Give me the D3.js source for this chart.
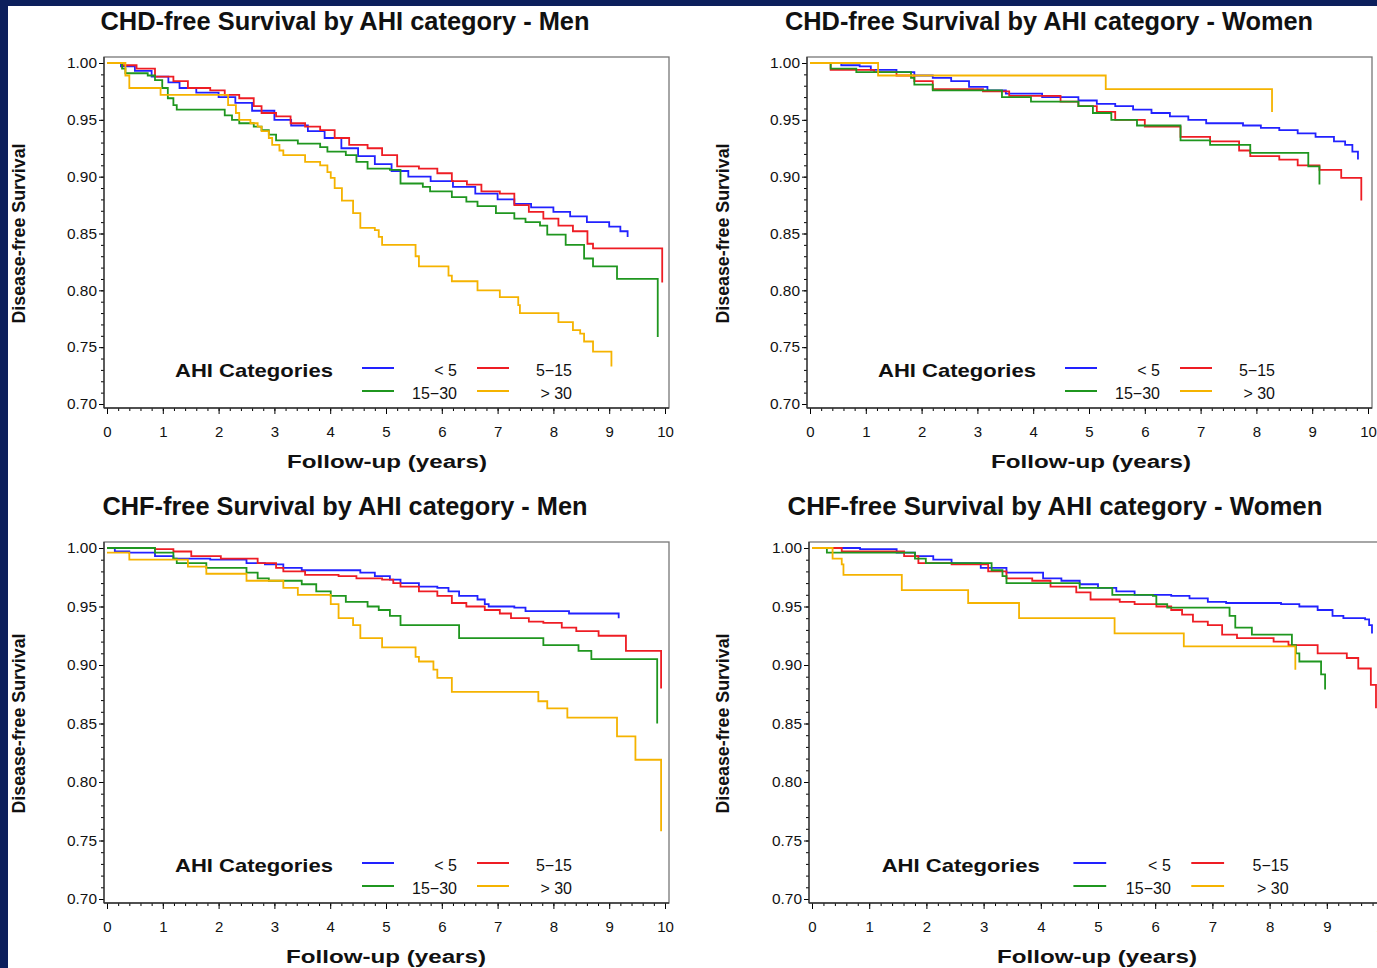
<!DOCTYPE html>
<html>
<head>
<meta charset="utf-8">
<script src="https://cdn.jsdelivr.net/npm/d3@7"></script>
<style>
  body { margin: 0; background: #fff; }
  svg { display: block; font-family: "Liberation Sans", Arial, sans-serif; }
</style>
</head>
<body>
<svg id="chart" width="1377" height="968"></svg>
<script>
// AHI categories, in legend order
const categories = ["< 5", "5−15", "15−30", "> 30"];

const xTicks = [0, 1, 2, 3, 4, 5, 6, 7, 8, 9, 10];
const yTicks = [0.70, 0.75, 0.80, 0.85, 0.90, 0.95, 1.00];

// Kaplan-Meier steps: [years, survival after the step]
// CHD - men
const chdMenLt5 = [[0,1],[0.25,0.997],[0.5,0.993],[0.8,0.988],[1.1,0.983],[1.3,0.978],[1.6,0.974],[2.0,0.970],[2.3,0.965],[2.6,0.958],[3.0,0.950],[3.3,0.945],[3.6,0.940],[3.9,0.934],[4.2,0.925],[4.5,0.918],[4.8,0.911],[5.1,0.905],[5.4,0.900],[5.8,0.896],[6.2,0.891],[6.6,0.885],[7.0,0.880],[7.3,0.876],[7.6,0.873],[8.0,0.869],[8.3,0.865],[8.6,0.860],[9.0,0.856],[9.2,0.852],[9.33,0.847]];
const chdMen5to15 = [[0,1],[0.27,0.998],[0.53,0.995],[0.86,0.988],[1.19,0.984],[1.45,0.978],[1.85,0.976],[2.11,0.972],[2.37,0.969],[2.63,0.962],[2.77,0.956],[3.03,0.953],[3.29,0.947],[3.55,0.944],[3.82,0.941],[4.08,0.934],[4.34,0.928],[4.67,0.925],[4.93,0.919],[5.20,0.909],[5.59,0.907],[5.92,0.903],[6.18,0.896],[6.45,0.893],[6.71,0.887],[7.04,0.885],[7.30,0.875],[7.56,0.869],[7.82,0.863],[8.09,0.857],[8.35,0.852],[8.61,0.841],[8.71,0.837],[9.95,0.807]];
const chdMen15to30 = [[0,1],[0.27,0.995],[0.33,0.991],[0.73,0.989],[0.86,0.985],[0.99,0.978],[1.09,0.969],[1.19,0.963],[1.25,0.959],[2.11,0.954],[2.24,0.950],[2.37,0.947],[2.63,0.944],[2.77,0.941],[2.90,0.937],[3.03,0.932],[3.42,0.929],[3.82,0.926],[3.95,0.922],[4.28,0.919],[4.47,0.913],[4.67,0.907],[5.07,0.906],[5.26,0.894],[5.66,0.891],[5.79,0.887],[6.18,0.882],[6.44,0.878],[6.64,0.874],[6.97,0.868],[7.30,0.863],[7.50,0.860],[7.76,0.857],[7.89,0.849],[8.22,0.840],[8.55,0.828],[8.71,0.821],[9.14,0.810],[9.87,0.759]];
const chdMenGt30 = [[0,1],[0.33,0.989],[0.40,0.978],[0.96,0.972],[2.17,0.963],[2.31,0.956],[2.37,0.950],[2.57,0.947],[2.70,0.944],[2.77,0.940],[2.90,0.934],[2.96,0.928],[3.09,0.923],[3.16,0.919],[3.55,0.913],[3.82,0.910],[3.95,0.904],[4.01,0.899],[4.08,0.890],[4.21,0.879],[4.41,0.868],[4.54,0.855],[4.80,0.853],[4.87,0.847],[4.93,0.840],[5.53,0.830],[5.59,0.821],[6.12,0.813],[6.18,0.808],[6.64,0.800],[7.04,0.794],[7.37,0.787],[7.40,0.780],[8.09,0.772],[8.35,0.765],[8.48,0.762],[8.55,0.755],[8.71,0.746],[9.04,0.733]];

// CHD - women
const chdWomenLt5 = [[0,1],[0.56,0.998],[0.89,0.997],[1.09,0.994],[1.55,0.992],[1.87,0.989],[2.20,0.987],[2.53,0.984],[2.85,0.979],[3.18,0.976],[3.51,0.973],[4.16,0.970],[4.81,0.967],[5.14,0.964],[5.47,0.962],[5.79,0.959],[6.12,0.956],[6.45,0.953],[6.78,0.950],[7.10,0.947],[7.76,0.945],[8.08,0.943],[8.41,0.941],[8.74,0.938],[9.06,0.935],[9.39,0.931],[9.59,0.928],[9.72,0.922],[9.82,0.915]];
const chdWomen5to15 = [[0,1],[0.37,0.994],[1.15,0.992],[1.55,0.989],[1.87,0.984],[2.20,0.977],[3.10,0.975],[3.57,0.971],[4.49,0.966],[4.81,0.962],[5.14,0.957],[5.47,0.950],[6.00,0.944],[6.64,0.935],[7.17,0.931],[7.69,0.923],[7.89,0.918],[8.41,0.915],[8.74,0.910],[9.13,0.906],[9.52,0.899],[9.88,0.879]];
const chdWomen15to30 = [[0,1],[0.37,0.995],[0.83,0.992],[1.81,0.987],[1.87,0.981],[2.20,0.976],[3.44,0.970],[3.96,0.966],[4.81,0.962],[5.07,0.956],[5.40,0.950],[5.86,0.945],[6.64,0.932],[7.17,0.928],[7.89,0.921],[8.93,0.909],[9.13,0.893]];
const chdWomenGt30 = [[0,1],[1.22,0.989],[5.30,0.977],[8.28,0.957]];

// CHF - men
const chfMenLt5 = [[0,1],[0.14,0.997],[0.40,0.996],[0.86,0.993],[1.19,0.991],[1.85,0.990],[2.50,0.987],[2.83,0.986],[3.16,0.983],[3.49,0.981],[4.54,0.979],[4.80,0.976],[5.07,0.973],[5.26,0.970],[5.59,0.967],[5.92,0.966],[6.12,0.963],[6.31,0.959],[6.64,0.956],[6.77,0.952],[6.84,0.950],[7.30,0.949],[7.50,0.946],[8.28,0.944],[9.17,0.940]];
const chfMen5to15 = [[0,1],[0.86,0.999],[1.19,0.997],[1.51,0.993],[2.04,0.991],[2.70,0.987],[3.03,0.983],[3.16,0.980],[3.55,0.977],[4.15,0.976],[4.47,0.974],[4.93,0.973],[5.13,0.970],[5.26,0.967],[5.59,0.963],[5.92,0.959],[6.18,0.953],[6.44,0.950],[6.77,0.947],[7.04,0.944],[7.24,0.940],[7.56,0.937],[7.82,0.936],[8.15,0.932],[8.41,0.929],[8.81,0.925],[9.30,0.912],[9.93,0.880]];
const chfMen15to30 = [[0,1],[0.86,0.996],[1.19,0.991],[1.25,0.987],[1.78,0.983],[2.50,0.979],[2.70,0.974],[2.90,0.972],[3.49,0.969],[3.75,0.963],[4.01,0.959],[4.28,0.954],[4.67,0.950],[4.87,0.947],[5.07,0.942],[5.26,0.934],[6.31,0.923],[7.82,0.917],[8.45,0.912],[8.68,0.905],[9.86,0.850]];
const chfMenGt30 = [[0,0.996],[0.40,0.990],[1.45,0.984],[1.78,0.978],[2.50,0.972],[3.16,0.966],[3.42,0.960],[4.01,0.952],[4.15,0.940],[4.41,0.934],[4.54,0.923],[4.93,0.915],[5.53,0.907],[5.59,0.903],[5.85,0.896],[5.92,0.889],[6.18,0.877],[7.73,0.869],[7.89,0.863],[8.25,0.855],[9.14,0.839],[9.47,0.819],[9.93,0.758]];

// CHF - women
const chfWomenLt5 = [[0,1],[0.84,0.999],[1.48,0.996],[1.80,0.993],[2.12,0.990],[2.44,0.987],[2.95,0.983],[3.40,0.979],[4.04,0.974],[4.36,0.972],[4.68,0.969],[5.00,0.966],[5.32,0.963],[5.64,0.960],[6.28,0.959],[6.60,0.957],[6.92,0.954],[7.24,0.953],[8.20,0.952],[8.52,0.950],[8.84,0.947],[9.10,0.942],[9.29,0.940],[9.67,0.939],[9.74,0.934],[9.79,0.927]];
const chfWomen5to15 = [[0,1],[0.52,0.997],[1.61,0.993],[1.86,0.987],[2.44,0.986],[3.08,0.980],[3.40,0.974],[3.85,0.972],[4.17,0.967],[4.62,0.962],[4.87,0.956],[5.38,0.954],[5.64,0.952],[6.02,0.950],[6.28,0.947],[6.47,0.943],[6.66,0.937],[6.92,0.934],[7.17,0.926],[7.43,0.923],[8.07,0.920],[8.33,0.917],[8.84,0.910],[9.35,0.906],[9.55,0.897],[9.77,0.883],[9.86,0.863]];
const chfWomen15to30 = [[0,1],[0.26,0.996],[1.80,0.991],[1.99,0.987],[3.14,0.981],[3.33,0.976],[3.40,0.970],[4.68,0.966],[5.25,0.960],[5.96,0.959],[6.02,0.952],[6.21,0.949],[7.30,0.942],[7.40,0.932],[7.69,0.926],[8.39,0.917],[8.46,0.910],[8.52,0.903],[8.90,0.892],[8.97,0.879]];
const chfWomenGt30 = [[0,1],[0.36,0.991],[0.52,0.986],[0.55,0.977],[1.57,0.964],[2.73,0.953],[3.62,0.940],[5.29,0.927],[6.50,0.916],[8.45,0.896]];

const titles = [
  "CHD-free Survival by AHI category - Men",
  "CHD-free Survival by AHI category - Women",
  "CHF-free Survival by AHI category - Men",
  "CHF-free Survival by AHI category - Women"
];

const colors = ["#2222ff", "#ee1d24", "#1f961f", "#f5b300"];

// layout of the four panels (pixels)
const panels = [
  {series: [chdMenLt5, chdMen5to15, chdMen15to30, chdMenGt30], x0: 107, x1: 665, yTop: 63, yBot: 404,
   titleX: 345, titleY: 30, titleW: 489, xlabX: 387, xlabY: 468, ylabX: 25},
  {series: [chdWomenLt5, chdWomen5to15, chdWomen15to30, chdWomenGt30], x0: 810, x1: 1368, yTop: 63, yBot: 404,
   titleX: 1049, titleY: 30, titleW: 528, xlabX: 1091, xlabY: 468, ylabX: 729},
  {series: [chfMenLt5, chfMen5to15, chfMen15to30, chfMenGt30], x0: 107, x1: 665, yTop: 548, yBot: 899,
   titleX: 345, titleY: 515, titleW: 485, xlabX: 386, xlabY: 963, ylabX: 25},
  {series: [chfWomenLt5, chfWomen5to15, chfWomen15to30, chfWomenGt30], x0: 812, x1: 1384, yTop: 548, yBot: 899,
   titleX: 1055, titleY: 515, titleW: 535, xlabX: 1097, xlabY: 963, ylabX: 729}
];

const svg = d3.select("#chart");

svg.append("rect").attr("width", 1377).attr("height", 968).attr("fill", "#0c1f5c");
svg.append("rect").attr("x", 8).attr("y", 6).attr("width", 1369).attr("height", 962).attr("fill", "#fff");

panels.forEach(function(p, i) {
  const x = d3.scaleLinear().domain([0, 10]).range([p.x0, p.x1]);
  const y = d3.scaleLinear().domain([0.70, 1.00]).range([p.yBot, p.yTop]);
  const left = p.x0 - 3, right = p.x1 + 4, top = p.yTop - 6, bottom = p.yBot + 4;
  const k = (p.x1 - p.x0) / 558;

  // title
  svg.append("text")
      .attr("x", p.titleX).attr("y", p.titleY)
      .attr("text-anchor", "middle")
      .attr("textLength", p.titleW).attr("lengthAdjust", "spacingAndGlyphs")
      .style("font-size", "25px").style("font-weight", "bold").style("fill", "#111")
      .text(titles[i]);

  // frame
  svg.append("rect")
      .attr("x", left).attr("y", top)
      .attr("width", right - left).attr("height", bottom - top)
      .attr("fill", "none").attr("stroke", "#777").attr("stroke-width", 1.3);

  // x axis: minor then major ticks
  svg.append("g")
      .attr("transform", "translate(0," + bottom + ")")
      .call(d3.axisBottom(x).tickValues(d3.range(0, 10.001, 0.2)).tickSize(3).tickFormat(""))
      .call(g => g.select(".domain").remove());

  const gx = svg.append("g")
      .attr("transform", "translate(0," + bottom + ")")
      .call(d3.axisBottom(x).tickValues(xTicks).tickSize(6).tickSizeOuter(0).tickPadding(12));
  gx.select(".domain").remove();
  gx.attr("font-family", null).attr("font-size", null);
  gx.selectAll("text").style("font-size", "15px").style("fill", "#111");

  // y axis: minor then major ticks
  svg.append("g")
      .attr("transform", "translate(" + left + ",0)")
      .call(d3.axisLeft(y).tickValues(d3.range(0.70, 1.0001, 0.01)).tickSize(3).tickFormat(""))
      .call(g => g.select(".domain").remove());

  const gy = svg.append("g")
      .attr("transform", "translate(" + left + ",0)")
      .call(d3.axisLeft(y).tickValues(yTicks).tickSize(5).tickSizeOuter(0).tickPadding(2).tickFormat(d3.format(".2f")));
  gy.select(".domain").remove();
  gy.attr("font-family", null).attr("font-size", null);
  gy.selectAll("text").style("font-size", "15px").style("fill", "#111").attr("textLength", 30).attr("lengthAdjust", "spacingAndGlyphs");

  // darker left and bottom axis lines
  svg.append("line").attr("x1", left).attr("x2", right).attr("y1", bottom).attr("y2", bottom)
      .attr("stroke", "#333").attr("stroke-width", 1.3);
  svg.append("line").attr("x1", left).attr("x2", left).attr("y1", top).attr("y2", bottom)
      .attr("stroke", "#333").attr("stroke-width", 1.3);

  // axis labels
  svg.append("text")
      .attr("x", p.xlabX).attr("y", p.xlabY)
      .attr("text-anchor", "middle")
      .attr("textLength", 200).attr("lengthAdjust", "spacingAndGlyphs")
      .style("font-size", "18px").style("font-weight", "bold").style("fill", "#111")
      .text("Follow-up (years)");

  svg.append("text")
      .attr("transform", "translate(" + p.ylabX + "," + ((p.yTop + p.yBot) / 2) + ") rotate(-90)")
      .attr("text-anchor", "middle")
      .attr("textLength", 180).attr("lengthAdjust", "spacingAndGlyphs")
      .style("font-size", "19px").style("font-weight", "bold").style("fill", "#111")
      .text("Disease-free Survival");

  // survival curves
  const line = d3.line()
      .x(d => x(d[0]))
      .y(d => y(d[1]))
      .curve(d3.curveStepAfter);

  p.series.forEach(function(s, j) {
    svg.append("path")
        .datum(s)
        .attr("d", line)
        .attr("fill", "none")
        .attr("stroke", colors[j])
        .attr("stroke-width", 1.8);
  });

  // legend
  const lg = svg.append("g").attr("transform", "translate(" + p.x0 + "," + (p.yBot - 34) + ")");
  lg.append("text")
      .attr("x", 68 * k).attr("y", 6.5)
      .attr("textLength", 158).attr("lengthAdjust", "spacingAndGlyphs")
      .style("font-size", "19px").style("font-weight", "bold").style("fill", "#111")
      .text("AHI Categories");

  categories.forEach(function(c, j) {
    const col = j % 2, row = Math.floor(j / 2);
    const lx = (255 + col * 115) * k, ly = row * 23;
    lg.append("line")
        .attr("x1", lx).attr("x2", lx + 32 * k)
        .attr("y1", ly - 2).attr("y2", ly - 2)
        .attr("stroke", colors[j]).attr("stroke-width", 2);
    lg.append("text")
        .attr("x", lx + 95 * k).attr("y", ly + 6)
        .attr("text-anchor", "end")
        .style("font-size", "16px").style("fill", "#111")
        .text(c);
  });
});
</script>
</body>
</html>
